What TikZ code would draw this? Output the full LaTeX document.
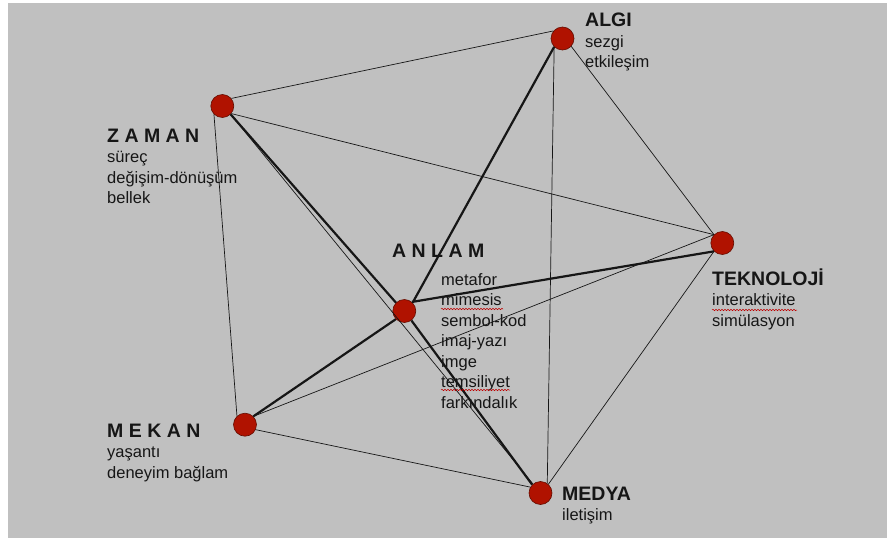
\documentclass[tikz,border=0pt]{standalone}
\usepackage{fontspec}
\setmainfont{Liberation Sans}
\usetikzlibrary{decorations.pathmorphing}
\definecolor{panel}{RGB}{192,192,192}
\definecolor{dotred}{RGB}{176,18,0}
\definecolor{dotrim}{RGB}{100,12,0}
\definecolor{ink}{RGB}{22,22,22}
% a block of text lines: first baseline sits on the node's base anchor
\newcommand{\txtblock}[1]{\vtop{\baselineskip=20.5pt #1}}
\newcommand{\headline}[1]{\hbox{\fontsize{19.5}{20.5}\selectfont\bfseries #1}}
\newcommand{\sline}[1]{\hbox{\fontsize{16.5}{20.5}\selectfont #1}}
\begin{document}
\begin{tikzpicture}[x=1pt,y=-1pt,
  dot/.style={circle,fill=dotred,draw=dotrim,line width=0.6pt,minimum size=23pt,inner sep=0pt},
  thinlink/.style={draw=ink,line width=0.7pt},
  thicklink/.style={draw=ink,line width=2.2pt},
  lbl/.style={anchor=base west,inner sep=0pt,text=ink},
  spell/.style={draw=red!75!black,line width=0.5pt,decorate,
    decoration={snake,amplitude=0.7pt,segment length=3pt}}]
\useasboundingbox (0,0) rectangle (887,538);
\fill[white] (0,0) rectangle (887,538);
\fill[panel] (8,3) rectangle (887,538);

% concept dots
\node[dot] (algi)  at (562.5,38.5) {};
\node[dot] (zaman) at (222.3,106)  {};
\node[dot] (tek)   at (722.3,243)  {};
\node[dot] (anlam) at (404.3,311)  {};
\node[dot] (mekan) at (245,424.7)  {};
\node[dot] (medya) at (540.5,493)  {};

% thin connections
\draw[thinlink] (zaman.40)  -- (algi.140);
\draw[thinlink] (zaman.-40) -- (tek.135);
\draw[thinlink] (zaman.-45) -- (medya.130);
\draw[thinlink] (zaman.225) -- (mekan.133);
\draw[thinlink] (algi.225)  -- (medya.55);
\draw[thinlink] (algi.-42)  -- (tek.135);
\draw[thinlink] (tek.135)   -- (mekan.45);
\draw[thinlink] (tek.225)   -- (medya.48);
\draw[thinlink] (mekan.-25) -- (medya.150);

% strong connections through ANLAM
\draw[thicklink] (anlam.135) -- (zaman.-45);
\draw[thicklink] (anlam.45)  -- (algi.225);
\draw[thicklink] (anlam.50)  -- (tek.225);
\draw[thicklink] (anlam.224) -- (mekan.45);
\draw[thicklink] (anlam.-53) -- (medya.135);

% labels
\node[lbl] (algi-txt) at (585,27) {\txtblock{\headline{ALGI}\sline{sezgi}\sline{etkileşim}}};
\node[lbl] (zaman-txt) at (107,142) {\txtblock{\headline{Z A M A N}\sline{süreç}\sline{değişim-dönüşüm}\sline{bellek}}};
\node[lbl] (anlam-head) at (392,257) {\txtblock{\headline{A N L A M}}};
\node[lbl] (anlam-txt) at (441,285) {\txtblock{\sline{metafor}\sline{mimesis}\sline{sembol-kod}\sline{imaj-yazı}\sline{imge}\sline{temsiliyet}\sline{farkındalık}}};
\node[lbl] (tek-txt) at (712,285) {\txtblock{\headline{TEKNOLOJİ}\sline{interaktivite}\sline{simülasyon}}};
\node[lbl] (mekan-txt) at (107,437) {\txtblock{\headline{M E K A N}\sline{yaşantı}\sline{deneyim bağlam}}};
\node[lbl] (medya-txt) at (562,500) {\txtblock{\headline{MEDYA}\sline{iletişim}}};

% spell-check underlines
\draw[spell] (441,309) -- (503,309);
\draw[spell] (441,390) -- (510,390);
\draw[spell] (712,310) -- (797,310);
\end{tikzpicture}
\end{document}
